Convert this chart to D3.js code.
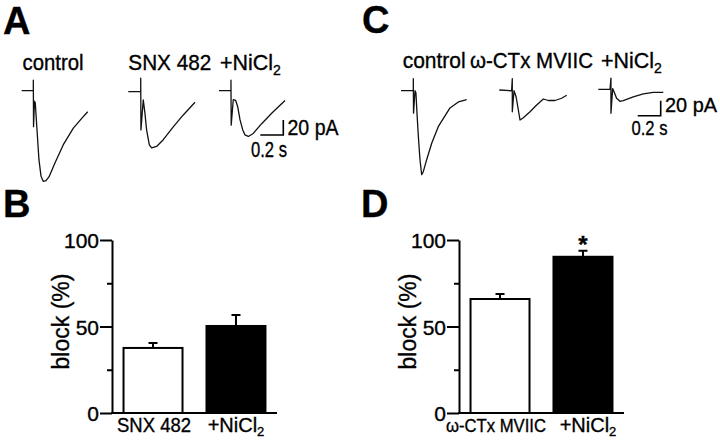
<!DOCTYPE html>
<html>
<head>
<meta charset="utf-8">
<script src="https://cdn.jsdelivr.net/npm/d3@7"></script>
<style>
  body { margin: 0; background: #fff; }
  text { font-family: "Liberation Sans", Arial, sans-serif; fill: #000; stroke: #000; stroke-width: 0.35px; }
</style>
</head>
<body>
<div id="wrapper"></div>
<script>
// traces: [time ms, current pA], baseline = 0
const traceControlA = [[0,0],[101,0],[101,14],[103,-48],[111,-14],[118,-16],[133,-52],[150,-92],[168,-114],[188,-121],[211,-120],[237,-115],[290,-96],[362,-72],[449,-50],[522,-37],[574,-28]]
const traceSnx = [[0,0],[108,0],[108,18],[110,-51],[130,-11],[145,-29],[159,-51],[183,-71],[203,-75],[246,-73],[304,-64],[391,-47],[478,-31],[580,-14]]
const traceNiA = [[0,0],[104,0],[104,14],[106,-46],[124,-12],[145,-13],[162,-21],[183,-39],[206,-52],[226,-59],[255,-61],[298,-57],[371,-44],[458,-30],[574,-13]]
const traceControlC = [[0,0],[107,0],[107,16],[109,-30],[122,0],[130,-3],[139,-30],[151,-61],[165,-92],[180,-112],[194,-108],[223,-92],[267,-70],[324,-48],[426,-23],[499,-15],[571,-12]]
const traceCtx = [[0,0],[107,-1],[113,15],[113,-29],[128,-1],[146,-9],[166,-27],[180,-40],[209,-37],[267,-29],[325,-20],[383,-12],[426,-14],[484,-14],[542,-11],[586,-7]]
const traceNiC = [[0,0],[102,0],[110,15],[110,-32],[125,1],[136,-3],[159,-12],[188,-16],[217,-15],[304,-10],[391,-6],[478,-4],[565,-4]]

const scaleBarTime = 200   // ms
const scaleBarCurrent = 20 // pA

// bar charts
const catsB = ["SNX 482", "+NiCl2"]
const valuesB = [37.6, 50.3]
const errorsB = [2.9, 6.3]
const catsD = ["ω-CTx MVIIC", "+NiCl2"]
const valuesD = [65.9, 90.3]
const errorsD = [2.9, 3.5]
const sigD = [false, true]
const majorTicks = [0, 50, 100]
const minorTicks = [25, 75]

const width = 720, height = 441
const svg = d3.select("#wrapper").append("svg")
    .attr("width", width)
    .attr("height", height)

// panel letters
const letters = [["A", 3, 34], ["B", 3, 217], ["C", 362, 33], ["D", 361, 217]]
svg.selectAll(".letter").data(letters).join("text")
    .attr("class", "letter")
    .attr("x", d => d[1]).attr("y", d => d[2])
    .style("font-size", "38px").style("font-weight", "bold")
    .text(d => d[0])

// ---- traces ----
const pxPerMs = 0.115, pxPerPa = 0.75
function drawTrace(data, x0, y0) {
  const x = d3.scaleLinear().domain([0, 1000]).range([x0, x0 + 1000 * pxPerMs])
  const y = d3.scaleLinear().domain([0, -100]).range([y0, y0 + 100 * pxPerPa])
  svg.append("path")
      .datum(data)
      .attr("d", d3.line().x(d => x(d[0])).y(d => y(d[1])))
      .attr("fill", "none")
      .attr("stroke", "#111")
      .attr("stroke-width", 1.3)
      .attr("stroke-linejoin", "round")
}
drawTrace(traceControlA, 21.7, 90.7)
drawTrace(traceSnx, 128.3, 91.7)
drawTrace(traceNiA, 219, 90.7)
drawTrace(traceControlC, 401, 90.7)
drawTrace(traceCtx, 499.3, 90)
drawTrace(traceNiC, 598.3, 89.3)

function drawScaleBar(cx, cy) {
  const x = d3.scaleLinear().domain([0, 1000]).range([cx, cx + 1000 * pxPerMs])
  const y = d3.scaleLinear().domain([0, 100]).range([cy, cy - 100 * pxPerPa])
  svg.append("path")
      .attr("d", `M${x(-scaleBarTime)},${y(0)}H${x(0)}V${y(scaleBarCurrent)}`)
      .attr("fill", "none").attr("stroke", "#000").attr("stroke-width", 1.6)
}
drawScaleBar(283.3, 135)
drawScaleBar(660.7, 115.7)

function label(x, y, main, size, len) {
  const t = svg.append("text").attr("x", x).attr("y", y).style("font-size", size + "px")
  const m = t.append("tspan").text(main)
  if (len) m.attr("textLength", len).attr("lengthAdjust", "spacingAndGlyphs")
  return t
}
label(22.5, 70, "control", 22, 61)
label(128.3, 70, "SNX 482", 22, 83)
label(220, 70, "+NiCl", 22, 53)
  .append("tspan").attr("dy", 5).style("font-size", "14px").text("2")
label(287.5, 135, "20 pA", 22, 51)
label(251, 156.5, "0.2 s", 22, 36)

label(402.7, 68.3, "control", 22, 63)
label(470, 68.3, "ω-CTx MVIIC", 22, 123)
label(601, 68.3, "+NiCl", 22, 53)
  .append("tspan").attr("dy", 5).style("font-size", "14px").text("2")
label(665, 111.7, "20 pA", 21, 52)
label(631.5, 135, "0.2 s", 21, 36)

// ---- bar charts ----
const y = d3.scaleLinear().domain([0, 100]).range([413, 240])

function drawBars(x0, cats, values, errors, sig, labelLens, labelShift, labelSize) {
  const x = d3.scaleBand().domain(cats).range([x0, x0 + 165])
      .paddingInner(0.289).paddingOuter(0.139)
  const g = svg.append("g")

  // error bars
  cats.forEach((c, i) => {
    const cx = x(c) + x.bandwidth() / 2
    g.append("path")
        .attr("d", `M${cx},${y(values[i])}V${y(values[i] + errors[i])}M${cx - 4.5},${y(values[i] + errors[i])}H${cx + 4.5}`)
        .attr("stroke", "#000").attr("stroke-width", 2).attr("fill", "none")
  })

  g.selectAll("rect").data(cats).join("rect")
      .attr("x", d => x(d))
      .attr("y", (d, i) => y(values[i]))
      .attr("width", x.bandwidth())
      .attr("height", (d, i) => y(0) - y(values[i]))
      .attr("fill", (d, i) => i === 0 ? "#fff" : "#000")
      .attr("stroke", "#000")
      .attr("stroke-width", 2)

  // asterisks
  cats.forEach((c, i) => {
    if (!sig[i]) return
    g.append("text")
        .attr("x", x(c) + x.bandwidth() / 2)
        .attr("y", y(values[i] + errors[i]) + 2)
        .attr("text-anchor", "middle")
        .style("font-size", "24px").style("font-weight", "bold")
        .text("*")
  })

  // y axis
  const axis = g.append("g")
      .attr("transform", `translate(${x0},0)`)
      .call(d3.axisLeft(y).tickValues(majorTicks).tickSize(12).tickSizeOuter(0).tickPadding(1))
  axis.select(".domain").attr("stroke-width", 2)
  axis.selectAll(".tick line").attr("stroke-width", 2)
  axis.selectAll(".tick text")
      .style("font-size", "21px")
      .style("font-family", "'Liberation Sans', Arial, sans-serif")
      .style("stroke", "#000").style("stroke-width", "0.35px")
      .attr("dy", "0.36em")
  g.append("g")
      .attr("transform", `translate(${x0},0)`)
      .call(d3.axisLeft(y).tickValues(minorTicks).tickSize(5).tickFormat(""))
      .call(a => a.select(".domain").remove())
      .selectAll("line").attr("stroke-width", 2)

  // x axis line
  g.append("line")
      .attr("x1", x0 - 1).attr("x2", x0 + 165)
      .attr("y1", y(0)).attr("y2", y(0))
      .attr("stroke", "#000").attr("stroke-width", 2)

  // axis title
  g.append("text")
      .attr("transform", `translate(${x0 - 43},${y(50) - 5}) rotate(-90)`)
      .attr("text-anchor", "middle")
      .style("font-size", "23px")
      .text("block (%)")

  // category labels
  cats.forEach((c, i) => {
    const cx = x(c) + x.bandwidth() / 2 + labelShift[i]
    const t = g.append("text").attr("x", cx).attr("y", 432)
        .attr("text-anchor", "middle").style("font-size", labelSize[i] + "px")
    if (c === "+NiCl2") {
      t.append("tspan").text("+NiCl")
      t.append("tspan").attr("dy", 4).style("font-size", "13px").text("2")
    } else {
      t.append("tspan").text(c).attr("textLength", labelLens[i]).attr("lengthAdjust", "spacingAndGlyphs")
    }
  })
}
drawBars(112, catsB, valuesB, errorsB, [false, false], [74, 0], [1, 0], [20, 20])
drawBars(459, catsD, valuesD, errorsD, sigD, [100, 0], [-4, 5], [18.5, 20])
</script>
</body>
</html>
